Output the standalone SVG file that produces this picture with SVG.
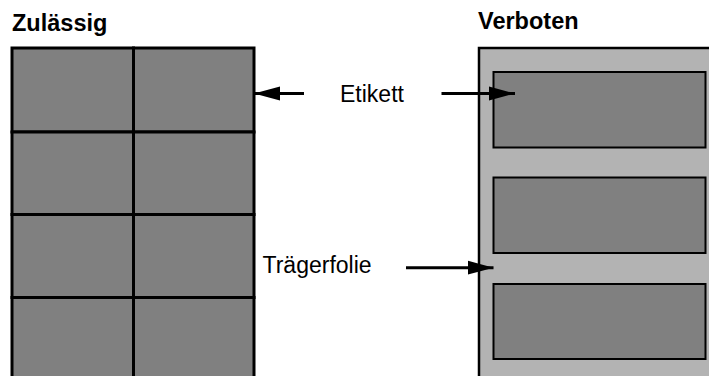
<svg xmlns="http://www.w3.org/2000/svg" width="709" height="376" viewBox="0 0 709 376">
  <defs>
    <style>
      .title { font-family: "Liberation Sans", Arial, sans-serif; font-weight: bold; font-size: 23.5px; fill: #000; }
      .label { font-family: "Liberation Sans", Arial, sans-serif; font-size: 23px; fill: #000; }
      .cell { fill: #808080; stroke: #000; stroke-width: 3; }
      .sheet { fill: #b3b3b3; stroke: #000; stroke-width: 2.5; }
      .label-rect { fill: #808080; stroke: #000; stroke-width: 2; }
      .conn { stroke: #000; stroke-width: 3; fill: none; }
    </style>
    <marker id="arrow" markerUnits="userSpaceOnUse" markerWidth="26" markerHeight="16" viewBox="0 0 26 16" refX="26" refY="8" orient="auto">
      <polygon points="0,1 26,8 0,15" fill="#000"/>
    </marker>
  </defs>
  <rect width="709" height="376" fill="#fff"/>

  <g id="title-zulaessig">
    <text class="title" x="12" y="31">Zulässig</text>
  </g>
  <g id="title-verboten">
    <text class="title" x="478" y="29">Verboten</text>
  </g>

  <g id="zulaessig-sheet">
    <rect class="cell" x="12" y="48" width="121.5" height="84"/>
    <rect class="cell" x="133.5" y="48" width="120.5" height="84"/>
    <rect class="cell" x="12" y="132" width="121.5" height="82.5"/>
    <rect class="cell" x="133.5" y="132" width="120.5" height="82.5"/>
    <rect class="cell" x="12" y="214.5" width="121.5" height="83"/>
    <rect class="cell" x="133.5" y="214.5" width="120.5" height="83"/>
    <rect class="cell" x="12" y="297.5" width="121.5" height="90"/>
    <rect class="cell" x="133.5" y="297.5" width="120.5" height="90"/>
  </g>

  <g id="verboten-sheet">
    <rect class="sheet" x="479" y="48" width="240" height="340"/>
  </g>
  <g id="etikett-1">
    <rect class="label-rect" x="493.5" y="72" width="212" height="75.5"/>
  </g>
  <g id="etikett-2">
    <rect class="label-rect" x="493.5" y="177.5" width="212" height="75.5"/>
  </g>
  <g id="etikett-3">
    <rect class="label-rect" x="493.5" y="284" width="212" height="75"/>
  </g>

  <g id="label-etikett">
    <text class="label" x="340" y="101.5">Etikett</text>
  </g>
  <g id="label-traegerfolie">
    <text class="label" x="262.5" y="273">Trägerfolie</text>
  </g>

  <g id="connectors">
    <line class="conn" x1="304" y1="93.5" x2="254" y2="93.5" marker-end="url(#arrow)"/>
    <line class="conn" x1="441.5" y1="93.5" x2="515" y2="93.5" marker-end="url(#arrow)"/>
    <line class="conn" x1="406" y1="267.7" x2="493.5" y2="267.7" marker-end="url(#arrow)"/>
  </g>
</svg>
